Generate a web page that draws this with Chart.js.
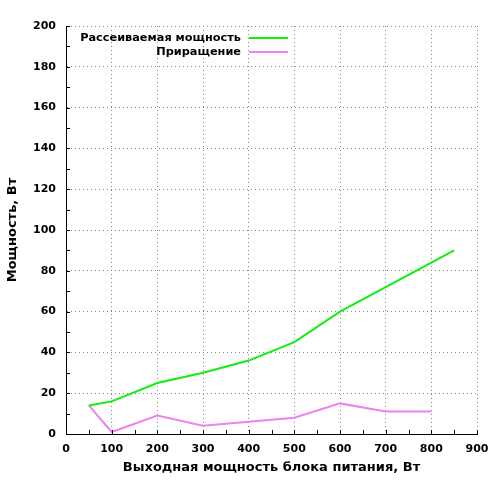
<!DOCTYPE html>
<html><head><meta charset="utf-8">
<script src="https://cdn.jsdelivr.net/npm/chart.js@4"></script>
<style>html,body{margin:0;padding:0;background:#fff}#w{width:500px;height:500px}</style>
</head><body><div id="w"><canvas id="c" width="500" height="500"></canvas></div>
<script>
const seriesNames = ['Рассеиваемая мощность', 'Приращение'];
const dissX = [50, 100, 200, 300, 400, 500, 600, 700, 800, 850];
const dissY = [14, 16, 25, 30, 36, 45, 60, 72, 84, 90];
const incX = [50, 100, 200, 300, 400, 500, 600, 700, 800];
const incY = [14, 1, 9, 4, 6, 8, 15, 11, 11];
const xTitle = 'Выходная мощность блока питания, Вт';
const yTitle = 'Мощность, Вт';

const FONT = 'DejaVu Sans, Verdana, sans-serif';
const pts = (xs, ys) => xs.map((x, i) => ({x, y: ys[i]}));

const minorTicks = {
  id: 'minorTicks',
  afterDatasetsDraw(chart) {
    const {ctx, chartArea: a, scales: {x, y}} = chart;
    ctx.save();
    ctx.strokeStyle = '#000';
    ctx.lineWidth = 1;
    ctx.setLineDash([]);
    ctx.beginPath();
    for (let v = 0; v <= 900; v += 50) {
      const px = Math.round(x.getPixelForValue(v)) + 0.5;
      ctx.moveTo(px, a.bottom); ctx.lineTo(px, a.bottom - 4);
    }
    for (let v = 0; v <= 200; v += 10) {
      const py = Math.round(y.getPixelForValue(v)) + 0.5;
      ctx.moveTo(a.left, py); ctx.lineTo(a.left + 4, py);
    }
    ctx.stroke();
    ctx.restore();
  }
};

const customLegend = {
  id: 'customLegend',
  afterDraw(chart) {
    const {ctx, chartArea: a} = chart;
    ctx.save();
    ctx.font = 'bold 11.3px ' + FONT;
    ctx.textAlign = 'right';
    ctx.textBaseline = 'middle';
    chart.data.datasets.forEach((ds, i) => {
      const yy = a.top + 12 + i * 14;
      const tx = a.left + 175;
      ctx.fillStyle = '#000';
      ctx.fillText(ds.label, tx, yy);
      ctx.strokeStyle = ds.borderColor;
      ctx.lineWidth = 2;
      ctx.beginPath();
      ctx.moveTo(tx + 8, yy); ctx.lineTo(tx + 47, yy);
      ctx.stroke();
    });
    ctx.restore();
  }
};

new Chart(document.getElementById('c'), {
  type: 'line',
  data: {
    datasets: [
      {label: seriesNames[0], data: pts(dissX, dissY), borderColor: '#11ee11', borderWidth: 2, pointRadius: 0, tension: 0, fill: false},
      {label: seriesNames[1], data: pts(incX, incY), borderColor: '#ee82ee', borderWidth: 2, pointRadius: 0, tension: 0, fill: false}
    ]
  },
  options: {
    responsive: false,
    animation: false,
    devicePixelRatio: 1,
    layout: {padding: {top: 26, right: 23, left: 0, bottom: 0}},
    plugins: {legend: {display: false}, tooltip: {enabled: false}},
    scales: {
      x: {
        type: 'linear', min: 0, max: 900,
        afterFit(s) { s.height = 66; },
        ticks: {stepSize: 100, color: '#000', font: {family: FONT, size: 11, weight: 'bold'}, padding: 9, maxRotation: 0},
        grid: {color: '#888', drawTicks: false, tickLength: 0},
        border: {display: true, color: '#000', width: 1, dash: [1, 3]},
        title: {display: true, text: xTitle, color: '#000', font: {family: FONT, size: 13, weight: 'bold'}, padding: {top: 4, bottom: 25}}
      },
      y: {
        type: 'linear', min: 0, max: 200,
        afterFit(s) { s.width = 66; },
        ticks: {stepSize: 20, color: '#000', font: {family: FONT, size: 11, weight: 'bold'}, padding: 10},
        grid: {color: '#888', drawTicks: false, tickLength: 0},
        border: {display: true, color: '#000', width: 1, dash: [1, 3]},
        title: {display: true, text: yTitle, color: '#000', font: {family: FONT, size: 13, weight: 'bold'}, padding: {top: 5, bottom: 4}}
      }
    }
  },
  plugins: [minorTicks, customLegend]
});
</script>
</body></html>
